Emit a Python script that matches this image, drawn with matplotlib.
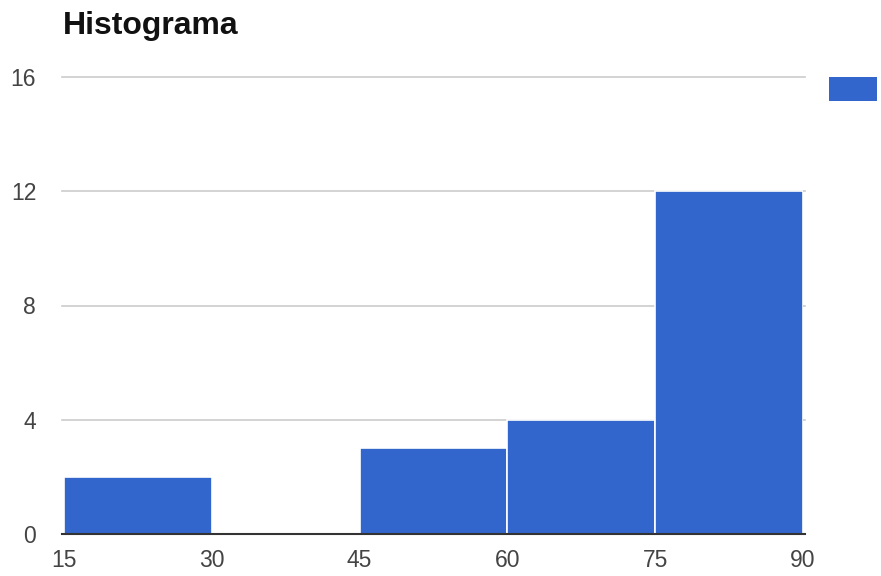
import matplotlib
matplotlib.use("Agg")
from matplotlib import pyplot as plt
from matplotlib.patches import Rectangle

# histogram bins and counts
bin_edges = [15, 30, 45, 60, 75, 90]
counts = [2, 0, 3, 4, 12]
y_ticks = [0, 4, 8, 12, 16]

plt.rcParams['font.family'] = ['Liberation Sans', 'DejaVu Sans']

fig = plt.figure(figsize=(8.81, 5.76), dpi=100)
ax = fig.add_axes([64/881, 1 - 534/576, (803 - 64)/881, (534 - 77)/576])

lefts = bin_edges[:-1]
widths = [b - a for a, b in zip(bin_edges[:-1], bin_edges[1:])]
ax.bar(lefts, counts, width=widths, align='edge', color='#3366cc',
       edgecolor='white', linewidth=1.2, zorder=2)

ax.set_xlim(15, 90)
ax.set_ylim(0, 16)
ax.set_xticks(bin_edges)
ax.set_yticks(y_ticks)
ax.tick_params(axis='both', length=0, labelsize=16.5, labelcolor='#444444')
ax.tick_params(axis='y', pad=20)
ax.tick_params(axis='x', pad=11)

for y in y_ticks[1:]:
    ax.axhline(y, xmin=-0.003, xmax=1.003, color='#cccccc', linewidth=1.2,
               zorder=1, clip_on=False)
ax.axhline(0, xmin=-0.003, xmax=1.003, color='#333333', linewidth=1.5,
           zorder=3, clip_on=False)

for s in ax.spines.values():
    s.set_visible(False)

# legend swatch with no label
fig.patches.append(Rectangle((829/881, 1 - 101/576), 48/881, 24/576,
                             transform=fig.transFigure, facecolor='#3366cc',
                             edgecolor='none'))

fig.text(63/881, 1 - 34/576, "Histograma", fontsize=23, fontweight='bold',
         color='#111111', ha='left', va='baseline')

fig.savefig("out.png", dpi=100, facecolor='white')
